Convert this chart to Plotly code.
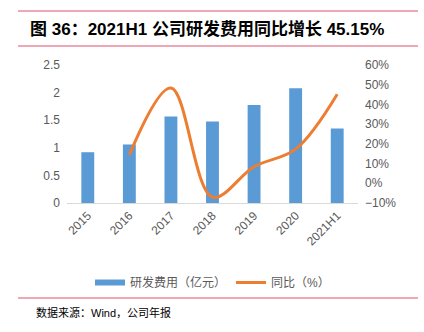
import plotly.graph_objects as go

categories = ["2015", "2016", "2017", "2018", "2019", "2020", "2021H1"]
rd_expense = [0.92, 1.06, 1.565, 1.475, 1.775, 2.08, 1.35]
yoy_pct = [None, 14.4, 48.3, -7.0, 8.4, 17.3, 45.15]

title_text = "图 36：2021H1 公司研发费用同比增长 45.15%"
source_text = "数据来源：Wind，公司年报"

BLUE = "#5B9BD5"
ORANGE = "#ED7D31"
RED = "#E2506C"
GRAY = "#595959"
FONT = "Liberation Sans, Noto Sans CJK SC, sans-serif"

def py(y_px):
    return (203 - y_px) / 138

def px(x_px):
    return (x_px - 67) / 291

fig = go.Figure()
fig.add_trace(go.Bar(x=categories, y=rd_expense, name="研发费用（亿元）",
                     marker=dict(color=BLUE, line=dict(width=0)), yaxis="y",
                     showlegend=False))
# legend entry for the bars, drawn as a wide swatch like the reference
fig.add_trace(go.Scatter(x=[None], y=[None], name="研发费用（亿元）", mode="lines",
                         line=dict(color=BLUE, width=6), yaxis="y"))
fig.add_trace(go.Scatter(x=categories, y=yoy_pct, name="同比（%）", mode="lines",
                         line=dict(color=ORANGE, width=3, shape="spline", smoothing=1.0),
                         yaxis="y2", connectgaps=False))

fig.update_layout(
    width=424, height=332,
    margin=dict(l=67, r=66, t=65, b=129),
    paper_bgcolor="white", plot_bgcolor="white",
    font=dict(family=FONT, size=12, color=GRAY),
    bargap=0.69,
    showlegend=True,
    legend=dict(orientation="h", x=0.5, xanchor="center", y=py(268), yanchor="top",
                font=dict(size=12, color=GRAY), itemwidth=30, traceorder="normal"),
    xaxis=dict(type="category", tickangle=-45, showgrid=False, showline=True,
               linecolor="#D9D9D9", linewidth=1, ticks="", tickfont=dict(size=12, color=GRAY)),
    yaxis=dict(range=[0, 2.5], dtick=0.5, showgrid=False, zeroline=False, showline=False,
               ticks="", tickfont=dict(size=12, color=GRAY), ticklabelstandoff=6),
    yaxis2=dict(range=[-10, 60], dtick=10, ticksuffix="%", overlaying="y", side="right",
                showgrid=False, zeroline=False, showline=False, ticks="",
                tickfont=dict(size=12, color=GRAY), ticklabelstandoff=6),
    shapes=[
        dict(type="line", xref="paper", yref="paper", x0=px(18), x1=px(418),
             y0=py(11), y1=py(11), line=dict(color=RED, width=1)),
        dict(type="line", xref="paper", yref="paper", x0=px(18), x1=px(418),
             y0=py(46), y1=py(46), line=dict(color=RED, width=1)),
        dict(type="line", xref="paper", yref="paper", x0=px(18), x1=px(418),
             y0=py(298), y1=py(298), line=dict(color=RED, width=1)),
    ],
    annotations=[
        dict(text="<b>" + title_text + "</b>", xref="paper", yref="paper",
             x=px(28), y=py(29), xanchor="left", yanchor="middle",
             showarrow=False, font=dict(size=17, color="#000000",
                                        family="Liberation Sans, Noto Sans CJK SC")),
        dict(text=source_text, xref="paper", yref="paper",
             x=px(34), y=py(312), xanchor="left", yanchor="middle",
             showarrow=False, font=dict(size=11, color="#000000",
                                        family="Liberation Sans, Noto Sans CJK SC")),
    ],
)

fig.write_html("out.html")
